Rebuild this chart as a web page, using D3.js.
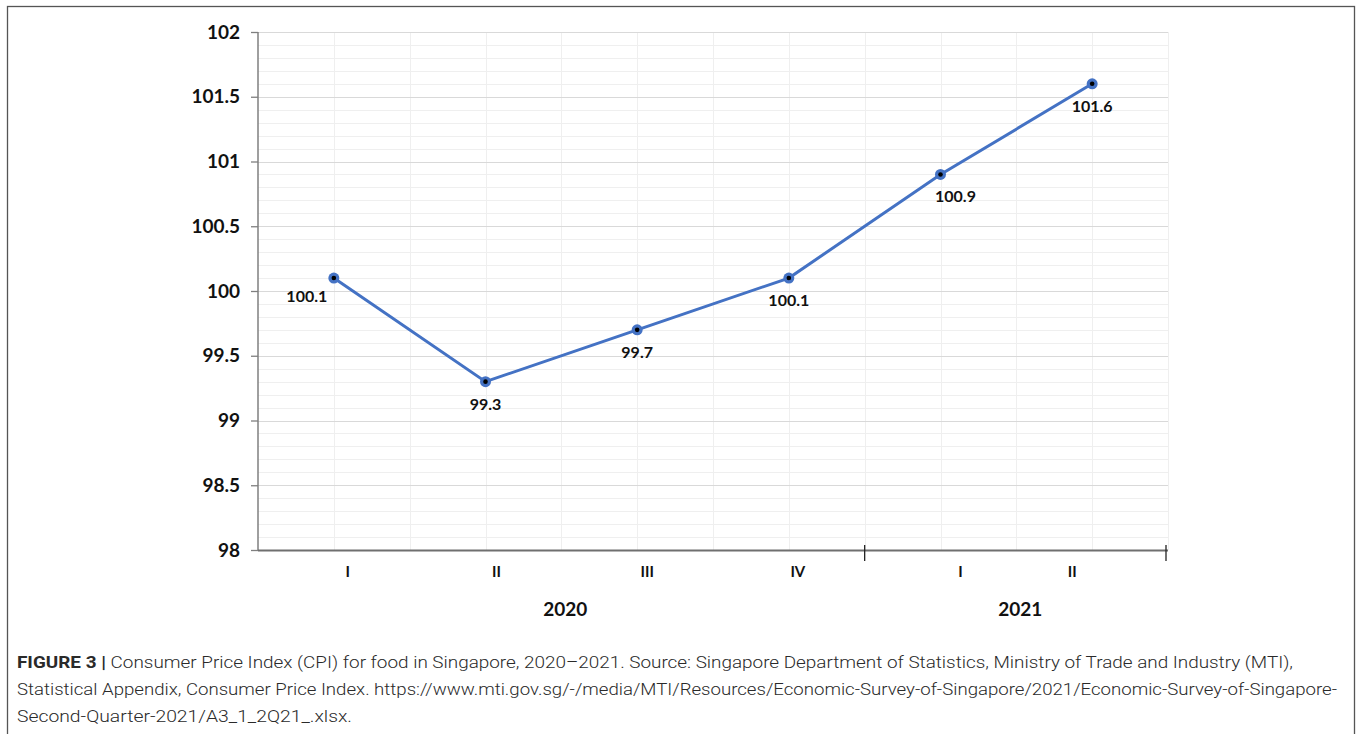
<!DOCTYPE html>
<html>
<head>
<meta charset="utf-8">
<script src="https://cdn.jsdelivr.net/npm/d3@7"></script>
<style>
  body { margin: 0; background: #fff; }
  svg { display: block; }
</style>
</head>
<body>
<svg width="1358" height="734"></svg>
<script>
// data
const quarters = ["I", "II", "III", "IV", "I", "II"];
const quarterYears = ["2020", "2020", "2020", "2020", "2021", "2021"];
const cpi = [100.1, 99.3, 99.7, 100.1, 100.9, 101.6];
const yTicks = [98, 98.5, 99, 99.5, 100, 100.5, 101, 101.5, 102];
const years = ["2020", "2021"];
// label nudges like in the spreadsheet chart
const labelDx = [-27, 0, 0, 0, 15, 0];
const quarterDx = [14, 11, 10, 9, 20, -20];

const captionLines = [
  { bold: "FIGURE 3 | ", text: "Consumer Price Index (CPI) for food in Singapore, 2020\u20132021. Source: Singapore Department of Statistics, Ministry of Trade and Industry (MTI)," },
  { bold: "", text: "Statistical Appendix, Consumer Price Index. https://www.mti.gov.sg/-/media/MTI/Resources/Economic-Survey-of-Singapore/2021/Economic-Survey-of-Singapore-" },
  { bold: "", text: "Second-Quarter-2021/A3_1_2Q21_.xlsx." },
];
const captionEnds = [1293, 1337, 352];

const svg = d3.select("svg"),
  plotLeft = 258, plotRight = 1168, plotTop = 32, plotBottom = 550;

const x = d3.scaleBand().domain(d3.range(cpi.length)).range([plotLeft, plotRight]);
const y = d3.scaleLinear().domain([98, 102]).range([plotBottom, plotTop]);

//outer frame
svg.append("rect")
  .attr("x", 7.5).attr("y", 6.5)
  .attr("width", 1347).attr("height", 740)
  .attr("fill", "none").attr("stroke", "#555").attr("stroke-width", 1.3);

const grid = svg.append("g");
//minor horizontal grid every 0.1
grid.selectAll(".minor")
  .data(d3.range(0, 41).map((i) => 98 + i * 0.1))
  .join("line")
  .attr("x1", plotLeft).attr("x2", plotRight)
  .attr("y1", (d) => Math.round(y(d)) + 0.5).attr("y2", (d) => Math.round(y(d)) + 0.5)
  .attr("stroke", "#efefef").attr("stroke-width", 1);
//vertical grid at every half band
const bw = x.bandwidth();
grid.selectAll(".vert")
  .data(d3.range(1, cpi.length * 2 + 1))
  .join("line")
  .attr("x1", (i) => Math.round(plotLeft + (i * bw) / 2) + 0.5)
  .attr("x2", (i) => Math.round(plotLeft + (i * bw) / 2) + 0.5)
  .attr("y1", plotTop).attr("y2", plotBottom)
  .attr("stroke", "#efefef").attr("stroke-width", 1);
//major horizontal grid
grid.selectAll(".major")
  .data(yTicks.slice(1))
  .join("line")
  .attr("x1", plotLeft).attr("x2", plotRight)
  .attr("y1", (d) => Math.round(y(d)) + 0.5).attr("y2", (d) => Math.round(y(d)) + 0.5)
  .attr("stroke", "#d9d9d9").attr("stroke-width", 1.2);

//y axis
const yAxis = svg.append("g")
  .attr("transform", `translate(${plotLeft},0)`)
  .call(d3.axisLeft(y).tickValues(yTicks).tickSize(7).tickPadding(11).tickFormat((d) => d));
yAxis.select(".domain").attr("stroke", "#7f7f7f").attr("stroke-width", 1.5).attr("d", `M0,${plotTop}V${plotBottom}`);
yAxis.selectAll(".tick line").attr("stroke", "#7f7f7f").attr("stroke-width", 1.3);
yAxis.selectAll(".tick text")
  .attr("font-family", "Lato, 'Open Sans', sans-serif")
  .attr("font-weight", "bold")
  .attr("font-size", 19)
  .attr("fill", "#111");

//x axis line
svg.append("line")
  .attr("x1", plotLeft).attr("x2", plotRight)
  .attr("y1", plotBottom + 0.5).attr("y2", plotBottom + 0.5)
  .attr("stroke", "#6f6f6f").attr("stroke-width", 2);

//group boundary ticks
const firstOf2021 = quarterYears.indexOf(years[1]);
svg.selectAll(".gtick")
  .data([x(firstOf2021), plotRight - 2])
  .join("line")
  .attr("x1", (d) => d).attr("x2", (d) => d)
  .attr("y1", plotBottom - 5).attr("y2", plotBottom + 11)
  .attr("stroke", "#222").attr("stroke-width", 1.3);

//quarter labels
svg.selectAll(".qlabel")
  .data(quarters)
  .join("text")
  .attr("x", (d, i) => x(i) + bw / 2 + quarterDx[i])
  .attr("y", 577)
  .attr("text-anchor", "middle")
  .attr("font-family", "Lato, 'Open Sans', sans-serif")
  .attr("font-weight", "bold")
  .attr("font-size", 15)
  .attr("fill", "#111")
  .text((d) => d);

//year labels
svg.selectAll(".ylabel")
  .data(years)
  .join("text")
  .attr("x", (d) => {
    const idx = quarterYears.map((q, i) => (q === d ? i : -1)).filter((i) => i >= 0);
    return (x(idx[0]) + x(idx[idx.length - 1]) + bw) / 2 + 4;
  })
  .attr("y", 616)
  .attr("text-anchor", "middle")
  .attr("font-family", "Lato, 'Open Sans', sans-serif")
  .attr("font-weight", "bold")
  .attr("font-size", 19)
  .attr("fill", "#111")
  .text((d) => d);

//line
const line = d3.line()
  .x((d, i) => x(i) + bw / 2)
  .y((d) => y(d));
svg.append("path")
  .datum(cpi)
  .attr("d", line)
  .attr("fill", "none")
  .attr("stroke", "#4472c4")
  .attr("stroke-width", 3);

//markers
const marks = svg.selectAll(".mark")
  .data(cpi)
  .join("g")
  .attr("transform", (d, i) => `translate(${x(i) + bw / 2},${y(d)})`);
marks.append("circle").attr("r", 5.5).attr("fill", "#4472c4");
marks.append("circle").attr("r", 2.3).attr("fill", "#000");

//data labels
svg.selectAll(".dlabel")
  .data(cpi)
  .join("text")
  .attr("x", (d, i) => x(i) + bw / 2 + labelDx[i])
  .attr("y", (d, i) => y(d) + (i === 0 ? 24 : 28))
  .attr("text-anchor", "middle")
  .attr("font-family", "Lato, 'Open Sans', sans-serif")
  .attr("font-weight", "bold")
  .attr("font-size", 16)
  .attr("fill", "#111")
  .text((d) => d.toFixed(1));

//caption
const cap = svg.append("g")
  .attr("font-family", "Roboto, 'Liberation Sans', sans-serif")
  .attr("font-size", 17)
  .attr("fill", "#2a2a2a");
captionLines.forEach((ln, i) => {
  const t = cap.append("text")
    .attr("x", 17)
    .attr("y", 668 + i * 27)
    .attr("textLength", captionEnds[i] - 17)
    .attr("lengthAdjust", "spacingAndGlyphs");
  if (ln.bold) t.append("tspan").attr("font-weight", "bold").text(ln.bold);
  t.append("tspan").attr("font-weight", 300).text(ln.text);
});
</script>
</body>
</html>
